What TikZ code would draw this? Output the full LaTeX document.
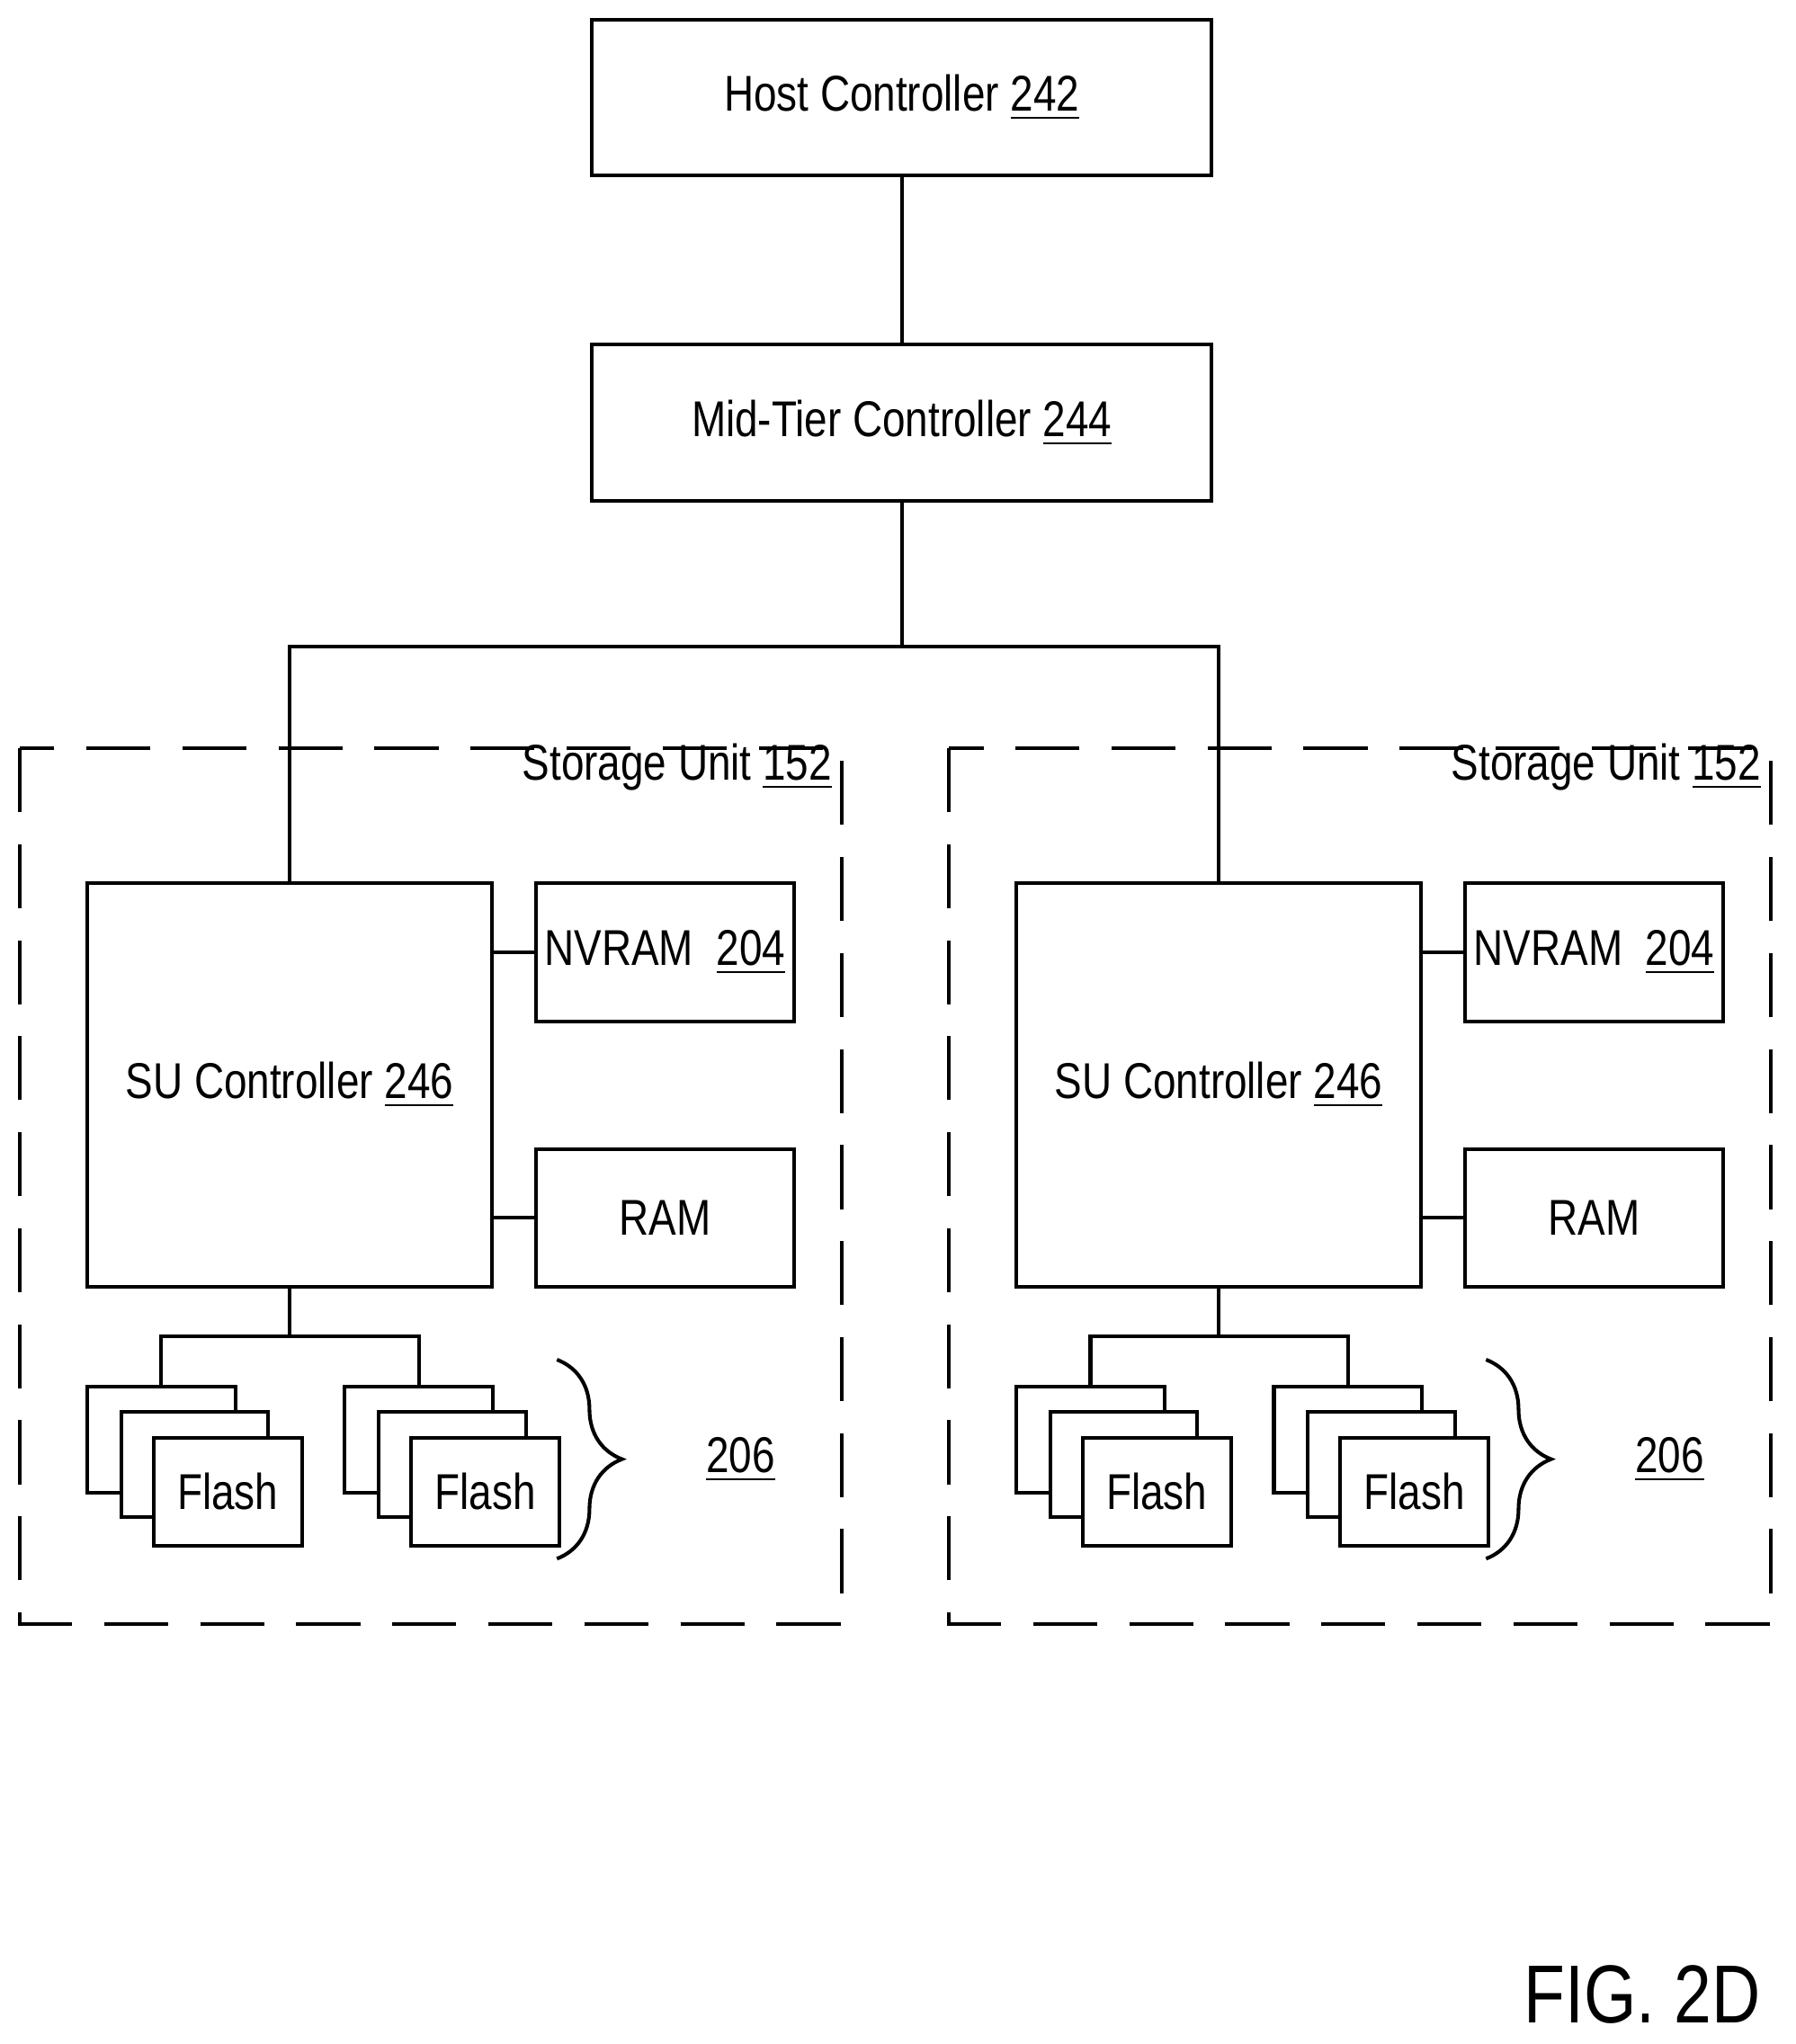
\documentclass[tikz,border=0pt]{standalone}
\usepackage{fontspec}
\setmainfont{Liberation Sans}[FakeStretch=0.82]
\usetikzlibrary{positioning,decorations.pathreplacing}

\tikzset{
  box/.style={draw,thick,fill=white,inner sep=0pt,font=\fontsize{11}{13}\selectfont},
  unit/.style={draw,thick,dash pattern=on 14pt off 7pt},
  wire/.style={thick}
}

\begin{document}
\begin{tikzpicture}
\useasboundingbox (0,0) rectangle (13.8,-15.71);

% top tier
\node[box,minimum width=4.76cm,minimum height=1.2cm] (host) at (6.93,-0.75) {Host Controller \underline{242}};
\node[box,minimum width=4.76cm,minimum height=1.2cm] (mid) at (6.93,-3.25) {Mid-Tier Controller \underline{244}};
\draw[wire] (host) -- (mid);
\coordinate (bus) at (6.93,-4.97);
\draw[wire] (mid) -- (bus);

% storage units
\foreach \u/\s in {1/0,2/7.14}{
  \begin{scope}[xshift=\s cm]
    \draw[unit] (0.15,-5.75) rectangle (6.47,-12.48);
    \node[anchor=south east,inner sep=0pt,font=\fontsize{11}{13}\selectfont] (lbl\u) at (6.40,-6.08) {Storage Unit \underline{152}};
    \node[box,minimum width=3.11cm,minimum height=3.1cm] (su\u) at (2.225,-8.34) {SU Controller \underline{246}};
    \node[box,minimum width=1.98cm,minimum height=1.06cm] (nv\u) at (5.11,-7.32) {NVRAM\ \ \underline{204}};
    \node[box,minimum width=1.98cm,minimum height=1.06cm] (ram\u) at (5.11,-9.36) {RAM};
    \draw[wire] (su\u.east |- nv\u.west) -- (nv\u.west);
    \draw[wire] (su\u.east |- ram\u.west) -- (ram\u.west);
    % flash stacks
    \foreach \f/\d in {a/0,b/1.98}{
      \node[box,minimum width=1.14cm,minimum height=0.81cm] (fb\u\f) at (1.24+\d,-11.065) {};
      \node[box,minimum width=1.13cm,minimum height=0.81cm] (fm\u\f) at (1.495+\d,-11.255) {};
      \node[box,minimum width=1.14cm,minimum height=0.83cm] (ff\u\f) at (1.75+\d,-11.465) {Flash};
    }
    \coordinate (fj\u) at (2.225,-10.27);
    \draw[wire] (su\u) -- (fj\u);
    \draw[wire] (fb\u a.north -| 1.24,0) |- (fj\u) -| (fb\u b.north -| 3.22,0);
    \draw[wire,decorate,decoration={brace,amplitude=0.5cm}] (4.28,-10.45) -- (4.28,-11.98);
    \node[font=\fontsize{11}{13}\selectfont] (fl\u) at (5.69,-11.22) {\underline{206}};
  \end{scope}
}
\draw[wire] (bus) -| (su1.north);
\draw[wire] (bus) -| (su2.north);

\node[font=\fontsize{18}{20}\selectfont] (fig) at (12.62,-15.33) {FIG. 2D};
\end{tikzpicture}
\end{document}
